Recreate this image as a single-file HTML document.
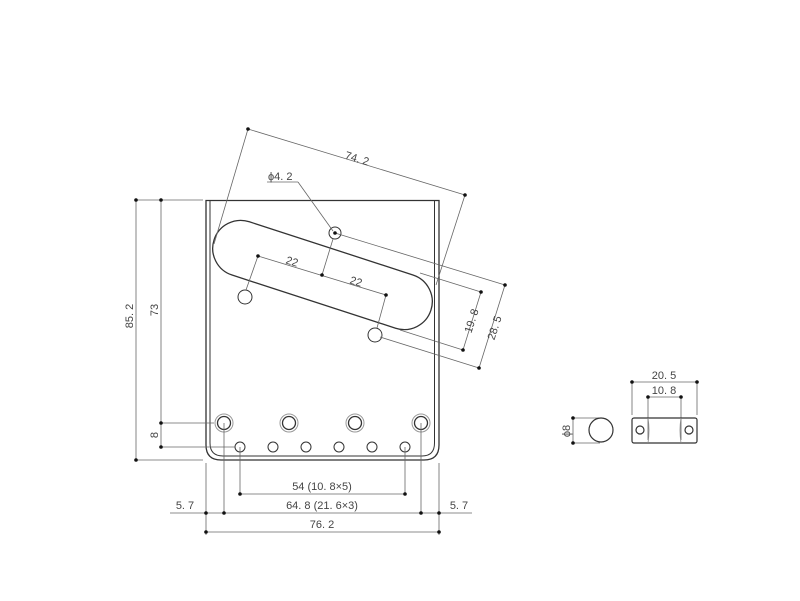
<!DOCTYPE html>
<html><head><meta charset="utf-8"><style>
html,body{margin:0;padding:0;background:#fff;}
svg{display:block;}
text{font-family:"Liberation Sans",sans-serif;font-size:11px;fill:#444;}
</style></head><body>
<svg width="800" height="601" viewBox="0 0 800 601">
<g fill="none" stroke="#333" stroke-width="1">
<!-- plate -->
<path d="M206 200.5 V445 Q206 460 221 460 H424 Q439 460 439 445 V200.5 Z" stroke-width="1.3"/>
<path d="M210 201 V443 Q210 456 223 456 H422 Q434.5 456 434.5 443 V201" stroke-width="1"/>
<!-- slot -->
<g transform="translate(322.5 275) rotate(18)">
<rect x="-114" y="-28" width="228" height="56" rx="28" ry="28" stroke-width="1.3"/>
</g>
<circle cx="245" cy="297" r="7"/>
<circle cx="375" cy="335" r="7"/>
<circle cx="335" cy="233" r="6"/>
<!-- screw holes -->
<g>
<circle cx="224" cy="423" r="6.5" stroke-width="1.3"/><circle cx="224" cy="423" r="9" stroke="#999"/>
<circle cx="289" cy="423" r="6.5" stroke-width="1.3"/><circle cx="289" cy="423" r="9" stroke="#999"/>
<circle cx="355" cy="423" r="6.5" stroke-width="1.3"/><circle cx="355" cy="423" r="9" stroke="#999"/>
<circle cx="421" cy="423" r="6.5" stroke-width="1.3"/><circle cx="421" cy="423" r="9" stroke="#999"/>
<circle cx="240" cy="447" r="5"/><circle cx="273" cy="447" r="5"/><circle cx="306" cy="447" r="5"/>
<circle cx="339" cy="447" r="5"/><circle cx="372" cy="447" r="5"/><circle cx="405" cy="447" r="5"/>
</g>
</g>
<g fill="none" stroke="#666" stroke-width="0.8">
<!-- 74.2 -->
<line x1="248" y1="129" x2="465" y2="195"/>
<line x1="248" y1="129" x2="214" y2="244"/>
<line x1="465" y1="195" x2="436" y2="285"/>
<!-- phi4.2 leader -->
<line x1="267" y1="182" x2="298" y2="182"/>
<line x1="298" y1="182" x2="333" y2="231"/>
<!-- 28.5 -->
<line x1="335" y1="233" x2="505" y2="285"/>
<line x1="380" y1="337" x2="479" y2="368"/>
<line x1="505" y1="285" x2="479" y2="368"/>
<!-- 19.8 -->
<line x1="420" y1="273" x2="481" y2="292"/>
<line x1="400" y1="330" x2="463" y2="350"/>
<line x1="481" y1="292" x2="463" y2="350"/>
<!-- 22 -->
<line x1="258" y1="256" x2="386" y2="295"/>
<line x1="258" y1="256" x2="246" y2="290"/>
<line x1="386" y1="295" x2="377" y2="328"/>
<line x1="322" y1="275" x2="333" y2="239"/>
<!-- left dims -->
<line x1="136" y1="200" x2="203" y2="200"/>
<line x1="136" y1="200" x2="136" y2="460"/>
<line x1="161" y1="200" x2="161" y2="447"/>
<line x1="136" y1="460" x2="203" y2="460"/>
<line x1="161" y1="423" x2="214" y2="423"/>
<line x1="161" y1="447" x2="235" y2="447"/>
<!-- bottom dims -->
<line x1="206" y1="463" x2="206" y2="535"/>
<line x1="439" y1="463" x2="439" y2="535"/>
<line x1="224" y1="423" x2="224" y2="513"/>
<line x1="421" y1="423" x2="421" y2="513"/>
<line x1="240" y1="447" x2="240" y2="494"/>
<line x1="405" y1="447" x2="405" y2="494"/>
<line x1="240" y1="494" x2="405" y2="494"/>
<line x1="170" y1="513" x2="472" y2="513"/>
<line x1="206" y1="532" x2="439" y2="532"/>
<!-- right part dims -->
<line x1="573" y1="418" x2="573" y2="443"/>
<line x1="573" y1="418" x2="600" y2="418"/>
<line x1="573" y1="443" x2="600" y2="443"/>
<line x1="632" y1="382" x2="697" y2="382"/>
<line x1="632" y1="382" x2="632" y2="415"/>
<line x1="697" y1="382" x2="697" y2="415"/>
<line x1="648" y1="397" x2="681" y2="397"/>
<line x1="648" y1="397" x2="648" y2="440"/>
<line x1="681" y1="397" x2="681" y2="440"/>
</g>
<!-- right part shapes -->
<g fill="none" stroke="#333" stroke-width="1.2">
<circle cx="601" cy="430" r="12"/>
<rect x="632" y="418" width="65" height="25" rx="2"/>
<circle cx="640" cy="430" r="4"/>
<circle cx="689" cy="430" r="4"/>
<path d="M648 418 Q650 430 648 443 M681 418 Q679 430 681 443" stroke="#888" stroke-width="0.8"/>
</g>
<!-- dots -->
<g fill="#111">
<circle cx="248" cy="129" r="1.8"/><circle cx="465" cy="195" r="1.8"/>
<circle cx="335" cy="233" r="1.8"/><circle cx="505" cy="285" r="1.8"/><circle cx="479" cy="368" r="1.8"/>
<circle cx="481" cy="292" r="1.8"/><circle cx="463" cy="350" r="1.8"/>
<circle cx="258" cy="256" r="1.8"/><circle cx="386" cy="295" r="1.8"/><circle cx="322" cy="275" r="1.8"/>
<circle cx="136" cy="200" r="1.8"/><circle cx="161" cy="200" r="1.8"/><circle cx="136" cy="460" r="1.8"/>
<circle cx="161" cy="423" r="1.8"/><circle cx="161" cy="447" r="1.8"/>
<circle cx="240" cy="494" r="1.8"/><circle cx="405" cy="494" r="1.8"/>
<circle cx="206" cy="513" r="1.8"/><circle cx="224" cy="513" r="1.8"/><circle cx="421" cy="513" r="1.8"/><circle cx="439" cy="513" r="1.8"/>
<circle cx="206" cy="532" r="1.8"/><circle cx="439" cy="532" r="1.8"/>
<circle cx="573" cy="418" r="1.8"/><circle cx="573" cy="443" r="1.8"/>
<circle cx="632" cy="382" r="1.8"/><circle cx="697" cy="382" r="1.8"/>
<circle cx="648" cy="397" r="1.8"/><circle cx="681" cy="397" r="1.8"/>
</g>
<!-- labels -->
<text x="356" y="162" transform="rotate(17 356 162)" text-anchor="middle">74. 2</text>
<text x="268" y="180">ϕ4. 2</text>
<text x="291" y="265" transform="rotate(17 291 265)" text-anchor="middle">22</text>
<text x="355" y="285" transform="rotate(17 355 285)" text-anchor="middle">22</text>
<text x="475" y="322" transform="rotate(-72 475 322)" text-anchor="middle">19. 8</text>
<text x="498" y="329" transform="rotate(-72 498 329)" text-anchor="middle">28. 5</text>
<text x="133" y="316" transform="rotate(-90 133 316)" text-anchor="middle">85. 2</text>
<text x="158" y="310" transform="rotate(-90 158 310)" text-anchor="middle">73</text>
<text x="158" y="435" transform="rotate(-90 158 435)" text-anchor="middle">8</text>
<text x="322" y="490" text-anchor="middle">54 (10. 8×5)</text>
<text x="322" y="509" text-anchor="middle">64. 8 (21. 6×3)</text>
<text x="322" y="528" text-anchor="middle">76. 2</text>
<text x="185" y="509" text-anchor="middle">5. 7</text>
<text x="459" y="509" text-anchor="middle">5. 7</text>
<text x="570" y="431" transform="rotate(-90 570 431)" text-anchor="middle">ϕ8</text>
<text x="664" y="379" text-anchor="middle">20. 5</text>
<text x="664" y="394" text-anchor="middle">10. 8</text>
</svg>
</body></html>
